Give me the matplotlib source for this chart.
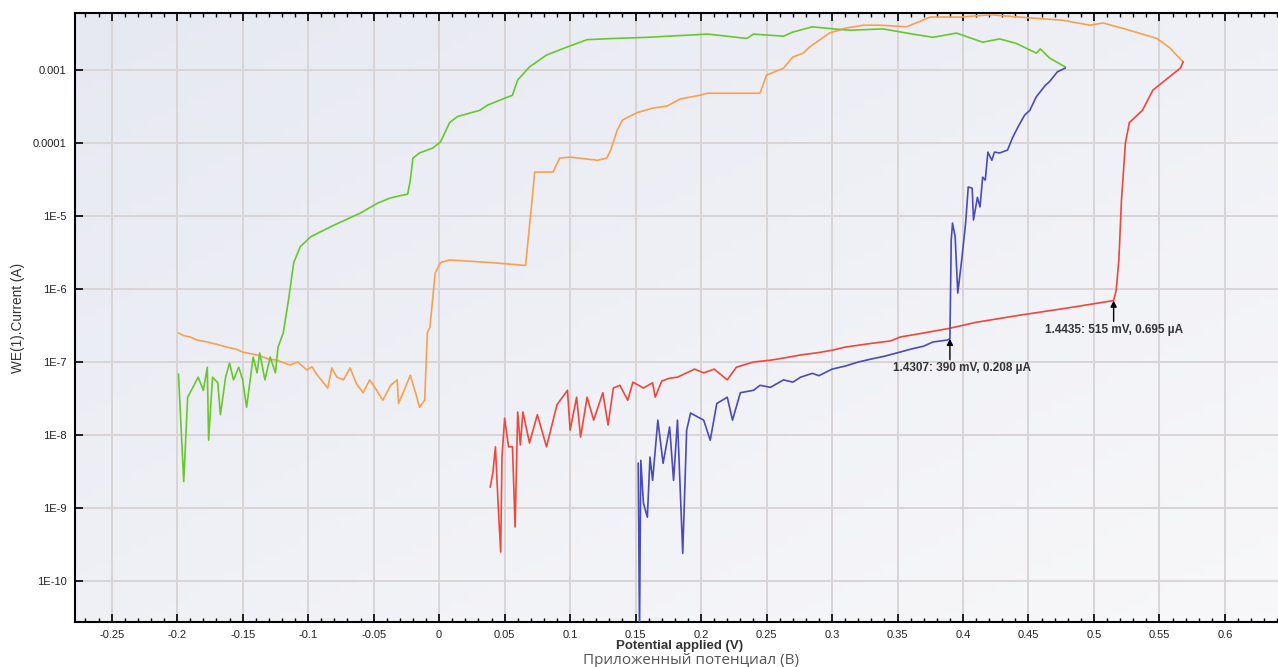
import numpy as np
import matplotlib
matplotlib.use("Agg")
import matplotlib.pyplot as plt
from matplotlib.colors import LinearSegmentedColormap
from matplotlib.ticker import FixedLocator, MultipleLocator, FuncFormatter

# forward scan 1 (green) -- potential (V), current (A)
green_v = [-0.199, -0.195, -0.192, -0.188, -0.184, -0.180, -0.177, -0.176, -0.173, -0.169,
           -0.167, -0.163, -0.160, -0.157, -0.153, -0.150, -0.147, -0.144, -0.142, -0.139,
           -0.137, -0.133, -0.129, -0.125, -0.123, -0.119, -0.115, -0.111, -0.106, -0.098,
           -0.083, -0.060, -0.047, -0.037, -0.024, -0.022, -0.020, -0.015, -0.005, 0.001,
           0.008, 0.014, 0.031, 0.037, 0.050, 0.056, 0.060, 0.069, 0.082, 0.098,
           0.113, 0.133, 0.159, 0.205, 0.235, 0.240, 0.263, 0.270, 0.285, 0.301,
           0.314, 0.339, 0.357, 0.377, 0.395, 0.415, 0.428, 0.441, 0.456, 0.459,
           0.466, 0.478]
green_i = [6.8e-8, 2.3e-9, 3.3e-8, 4.5e-8, 6.2e-8, 4.1e-8, 8.5e-8, 8.5e-9, 6.2e-8, 5.2e-8,
           1.9e-8, 6.2e-8, 9.7e-8, 5.7e-8, 8.5e-8, 5.7e-8, 2.4e-8, 6.2e-8, 1.17e-7, 7.1e-8,
           1.33e-7, 5.7e-8, 1.17e-7, 7.1e-8, 1.6e-7, 2.5e-7, 7.1e-7, 2.3e-6, 3.8e-6, 5.2e-6,
           7.1e-6, 1.1e-5, 1.5e-5, 1.77e-5, 2.0e-5, 3.1e-5, 6.2e-5, 7.3e-5, 8.5e-5, 1.03e-4,
           1.9e-4, 2.3e-4, 2.8e-4, 3.3e-4, 4.1e-4, 4.5e-4, 7.3e-4, 1.1e-3, 1.6e-3, 2.07e-3,
           2.6e-3, 2.7e-3, 2.8e-3, 3.1e-3, 2.7e-3, 3.1e-3, 2.9e-3, 3.3e-3, 3.9e-3, 3.65e-3,
           3.5e-3, 3.65e-3, 3.2e-3, 2.8e-3, 3.2e-3, 2.4e-3, 2.66e-3, 2.3e-3, 1.7e-3, 1.94e-3,
           1.46e-3, 1.1e-3]

# reverse scan 1 (blue)
blue_v = [0.478, 0.472, 0.466, 0.463, 0.456, 0.451, 0.447, 0.442, 0.438, 0.434,
          0.428, 0.424, 0.422, 0.419, 0.417, 0.415, 0.413, 0.411, 0.408, 0.407,
          0.404, 0.402, 0.399, 0.396, 0.394, 0.392, 0.391, 0.390, 0.388, 0.377,
          0.370, 0.360, 0.352, 0.340, 0.330, 0.320, 0.310, 0.300, 0.290, 0.285,
          0.276, 0.270, 0.263, 0.253, 0.245, 0.240, 0.230, 0.224, 0.220, 0.212,
          0.207, 0.202, 0.192, 0.189, 0.186, 0.182, 0.179, 0.176, 0.171, 0.167,
          0.163, 0.161, 0.159, 0.156, 0.154, 0.153, 0.152]
blue_i = [1.06e-3, 9.4e-4, 6.9e-4, 6.2e-4, 4.3e-4, 2.8e-4, 2.4e-4, 1.66e-4, 1.2e-4, 8.0e-5,
          7.3e-5, 7.5e-5, 5.8e-5, 7.5e-5, 3.1e-5, 3.4e-5, 1.33e-5, 1.8e-5, 8.8e-6, 2.4e-5,
          2.5e-5, 8.0e-6, 2.5e-6, 8.8e-7, 5.2e-6, 8.0e-6, 4.7e-6, 2.08e-7, 2.0e-7, 1.88e-7,
          1.65e-7, 1.5e-7, 1.37e-7, 1.2e-7, 1.1e-7, 1.0e-7, 8.8e-8, 8.0e-8, 6.5e-8, 7.0e-8,
          6.2e-8, 5.3e-8, 5.7e-8, 4.5e-8, 4.8e-8, 4.1e-8, 3.8e-8, 1.6e-8, 3.3e-8, 2.7e-8,
          8.5e-9, 1.6e-8, 2.0e-8, 1.17e-8, 2.4e-10, 1.6e-8, 2.4e-9, 1.29e-8, 4.1e-9, 1.6e-8,
          2.4e-9, 5.0e-9, 7.5e-10, 1.17e-9, 4.5e-9, 2.0e-11, 4.1e-9]

# forward scan 2 (orange)
orange_v = [-0.199, -0.195, -0.190, -0.185, -0.177, -0.170, -0.162, -0.155, -0.150, -0.139,
            -0.130, -0.124, -0.114, -0.108, -0.101, -0.097, -0.093, -0.085, -0.082, -0.078,
            -0.073, -0.068, -0.063, -0.058, -0.053, -0.048, -0.043, -0.037, -0.032, -0.031,
            -0.026, -0.022, -0.017, -0.015, -0.011, -0.009, -0.007, -0.005, -0.003, 0.001,
            0.008, 0.040, 0.066, 0.071, 0.073, 0.087, 0.092, 0.100, 0.121, 0.128,
            0.131, 0.136, 0.140, 0.151, 0.163, 0.174, 0.184, 0.199, 0.205, 0.245,
            0.250, 0.263, 0.270, 0.278, 0.283, 0.298, 0.311, 0.324, 0.337, 0.357,
            0.375, 0.398, 0.421, 0.449, 0.476, 0.497, 0.507, 0.527, 0.548, 0.558,
            0.568]
orange_i = [2.5e-7, 2.3e-7, 2.2e-7, 2.0e-7, 1.88e-7, 1.75e-7, 1.6e-7, 1.5e-7, 1.37e-7, 1.25e-7,
            1.1e-7, 1.06e-7, 9.1e-8, 1.0e-7, 7.8e-8, 8.6e-8, 6.6e-8, 4.4e-8, 8.3e-8, 6.2e-8,
            5.7e-8, 8.3e-8, 5.0e-8, 3.8e-8, 5.7e-8, 4.2e-8, 3.0e-8, 4.8e-8, 5.7e-8, 2.7e-8,
            4.4e-8, 6.6e-8, 3.3e-8, 2.4e-8, 3.0e-8, 2.5e-7, 3.0e-7, 7.1e-7, 1.66e-6, 2.3e-6,
            2.5e-6, 2.3e-6, 2.1e-6, 1.66e-5, 4.0e-5, 4.0e-5, 6.2e-5, 6.4e-5, 5.8e-5, 6.2e-5,
            8.0e-5, 1.5e-4, 2.06e-4, 2.6e-4, 3.0e-4, 3.2e-4, 4.0e-4, 4.5e-4, 4.8e-4, 4.8e-4,
            8.5e-4, 1.06e-3, 1.5e-3, 1.7e-3, 2.07e-3, 3.2e-3, 3.76e-3, 4.1e-3, 4.1e-3, 3.9e-3,
            5.3e-3, 5.3e-3, 5.7e-3, 5.2e-3, 4.8e-3, 4.1e-3, 4.4e-3, 3.5e-3, 2.7e-3, 2.0e-3,
            1.29e-3]

# reverse scan 2 (red)
red_v = [0.568, 0.566, 0.553, 0.545, 0.537, 0.533, 0.527, 0.524, 0.521, 0.519,
         0.517, 0.515, 0.480, 0.444, 0.410, 0.390, 0.370, 0.352, 0.345, 0.330,
         0.310, 0.300, 0.290, 0.276, 0.265, 0.253, 0.240, 0.227, 0.220, 0.210,
         0.202, 0.195, 0.189, 0.182, 0.176, 0.170, 0.165, 0.163, 0.156, 0.148,
         0.144, 0.138, 0.133, 0.129, 0.125, 0.118, 0.113, 0.108, 0.105, 0.100,
         0.098, 0.090, 0.082, 0.075, 0.069, 0.064, 0.062, 0.060, 0.058, 0.056,
         0.053, 0.050, 0.048, 0.047, 0.045, 0.043, 0.041, 0.039]
red_i = [1.29e-3, 1.06e-3, 6.9e-4, 5.3e-4, 2.8e-4, 2.4e-4, 1.9e-4, 1.0e-4, 1.66e-5, 2.5e-6,
         9.7e-7, 6.95e-7, 5.5e-7, 4.4e-7, 3.5e-7, 2.9e-7, 2.5e-7, 2.2e-7, 1.95e-7, 1.8e-7,
         1.6e-7, 1.45e-7, 1.35e-7, 1.25e-7, 1.15e-7, 1.06e-7, 1.0e-7, 8.5e-8, 5.7e-8, 8.0e-8,
         7.1e-8, 8.0e-8, 7.1e-8, 6.2e-8, 6.0e-8, 5.5e-8, 3.3e-8, 5.2e-8, 4.4e-8, 5.3e-8,
         3.0e-8, 4.8e-8, 4.4e-8, 1.37e-8, 3.8e-8, 1.6e-8, 3.3e-8, 9.4e-9, 3.3e-8, 1.17e-8,
         4.1e-8, 2.6e-8, 6.9e-9, 1.9e-8, 7.8e-9, 2.07e-8, 7.3e-9, 2.07e-8, 5.5e-10, 6.9e-9,
         6.9e-9, 1.7e-8, 5.0e-9, 2.5e-10, 1.17e-9, 6.9e-9, 3.0e-9, 1.94e-9]

# marked points: (label, V, A)
markers = [("1.4307: 390 mV, 0.208 µA", 0.390, 2.08e-7),
           ("1.4435: 515 mV, 0.695 µA", 0.515, 6.95e-7)]
label_dx = [9, 0]   # horizontal nudge of each marker label, points

y_ticks = [1e-3, 1e-4, 1e-5, 1e-6, 1e-7, 1e-8, 1e-9, 1e-10]

plt.rcParams['font.family'] = ['Liberation Sans', 'DejaVu Sans']

fig = plt.figure(figsize=(12.78, 6.67), dpi=100)
ax = fig.add_axes([0.0587, 0.0675, 0.9413, 0.913])

# soft background gradient, slightly darker towards the upper left
gx, gy = np.meshgrid(np.linspace(0, 1, 64), np.linspace(0, 1, 64))
shade = 0.5 * (1 - gy) + 0.5 * (1 - gx)
bg_cmap = LinearSegmentedColormap.from_list('bg', ['#f8f8fa', '#e7e9f2'])
ax.imshow(shade, extent=(0, 1, 0, 1), transform=ax.transAxes, cmap=bg_cmap,
          vmin=0, vmax=1, aspect='auto', zorder=0, origin='upper')

lw = 1.2
ax.plot(orange_v, orange_i, color='#f9a04e', lw=lw, zorder=3)
ax.plot(green_v, green_i, color='#66c82a', lw=lw, zorder=3)
ax.plot(red_v, red_i, color='#f2463a', lw=lw, zorder=3)
ax.plot(blue_v, blue_i, color='#4a4ab8', lw=lw, zorder=3)

ax.set_yscale('log')
ax.set_xlim(-0.278, 0.6405)
ax.set_ylim(10 ** -10.56, 10 ** -2.22)

ax.xaxis.set_major_locator(MultipleLocator(0.05))
ax.xaxis.set_minor_locator(MultipleLocator(0.01))
ax.xaxis.set_major_formatter(FuncFormatter(lambda v, p: f"{round(v, 2):g}"))
ax.yaxis.set_major_locator(FixedLocator(y_ticks))
ax.yaxis.set_minor_locator(FixedLocator([]))
ax.yaxis.set_major_formatter(FuncFormatter(
    lambda v, p: f"{v:g}" if v >= 1e-4 else f"1E{int(round(np.log10(v)))}"))

ax.tick_params(axis='both', which='both', direction='in', top=True, colors='black',
               labelsize=8, labelcolor='#222222')
ax.tick_params(axis='both', which='major', length=6, width=1.2, pad=6)
ax.tick_params(axis='x', which='minor', length=3, width=1.0)
ax.grid(True, which='major', color='#d9d4d6', lw=1.4, zorder=1)
ax.set_axisbelow(True)
for s in ['left', 'bottom', 'top']:
    ax.spines[s].set_linewidth(1.5)
ax.spines['right'].set_visible(False)

for (label, v, i), dx in zip(markers, label_dx):
    ax.annotate('', xy=(v, i), xytext=(0, -15), textcoords='offset points',
                arrowprops=dict(arrowstyle='-|>', color='black', lw=1.0,
                                mutation_scale=9, shrinkA=0, shrinkB=0), zorder=5)
    ax.annotate(label, xy=(v, i), xytext=(dx, -21), textcoords='offset points',
                fontsize=8.5, fontweight='bold', color='#333333', ha='center', va='center',
                zorder=5)

fig.text(0.532, 0.031, 'Potential applied (V)', ha='center', va='center',
         fontsize=9.5, fontweight='bold', color='#333333')
fig.text(0.541, 0.009, 'Приложенный потенциал (В)', ha='center', va='center',
         fontsize=11, color='#555555', family=['Open Sans', 'DejaVu Sans'])
fig.text(0.014, 0.523, 'WE(1).Current (A)', ha='center', va='center', rotation=90,
         fontsize=9.8, color='#333333')

fig.savefig('out.png', dpi=100)
